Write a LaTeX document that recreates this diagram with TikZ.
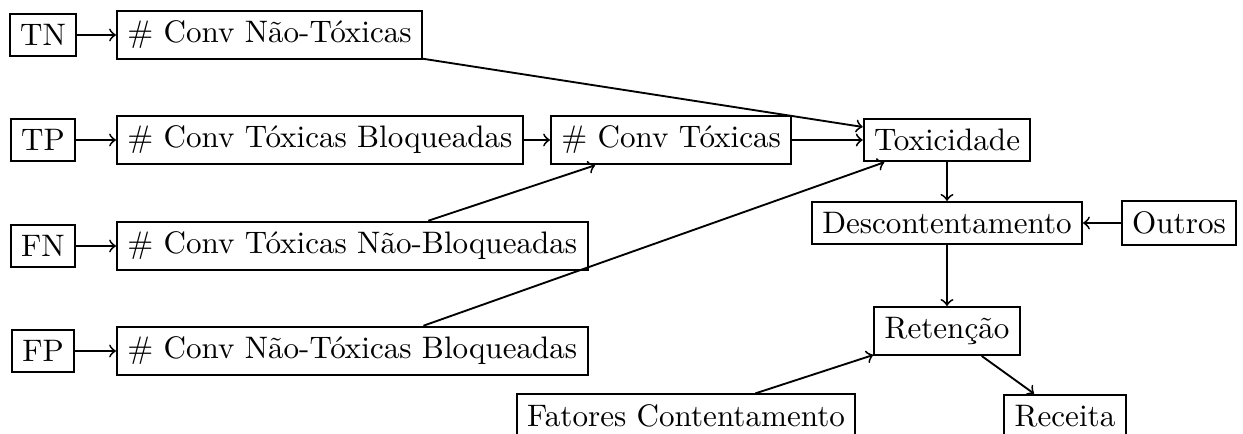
\documentclass[tikz,border=0pt]{standalone}
\begin{document}
\begin{tikzpicture}[x=0.32154pt,y=-0.32154pt,
  line width=0.6pt,
  box/.style={draw},
  arr/.style={->}]
\useasboundingbox (0,0) rectangle (1243,434);
\node[box] (tn) at (43,35) {TN};
\node[box] (tp) at (43,140) {TP};
\node[box] (fn) at (43,246) {FN};
\node[box] (fp) at (43,351) {FP};
\node[box,anchor=west] (cnt) at (116,35) {\# Conv Não-Tóxicas};
\node[box,anchor=west] (ctb) at (116,140) {\# Conv Tóxicas Bloqueadas};
\node[box,anchor=west] (ct) at (550,140) {\# Conv Tóxicas};
\node[box,anchor=west] (ctnb) at (116,246) {\# Conv Tóxicas Não-Bloqueadas};
\node[box,anchor=west] (cntb) at (116,351) {\# Conv Não-Tóxicas Bloqueadas};
\node[box] (tox) at (947,140) {Toxicidade};
\node[box] (desc) at (947,223) {Descontentamento};
\node[box] (out) at (1179,223) {Outros};
\node[box] (ret) at (947,331) {Retenção};
\node[box] (fat) at (686,416) {Fatores Contentamento};
\node[box] (rec) at (1065,416) {Receita};
\draw[arr] (tn) -- (cnt);
\draw[arr] (tp) -- (ctb);
\draw[arr] (fn) -- (ctnb);
\draw[arr] (fp) -- (cntb);
\draw[arr] (ctb) -- (ct);
\draw[arr] (ct) -- (tox);
\draw[arr] (cnt) -- (tox);
\draw[arr] (ctnb) -- (ct);
\draw[arr] (cntb) -- (tox);
\draw[arr] (tox) -- (desc);
\draw[arr] (out) -- (desc);
\draw[arr] (desc) -- (ret);
\draw[arr] (fat) -- (ret);
\draw[arr] (ret) -- (rec);
\end{tikzpicture}
\end{document}
